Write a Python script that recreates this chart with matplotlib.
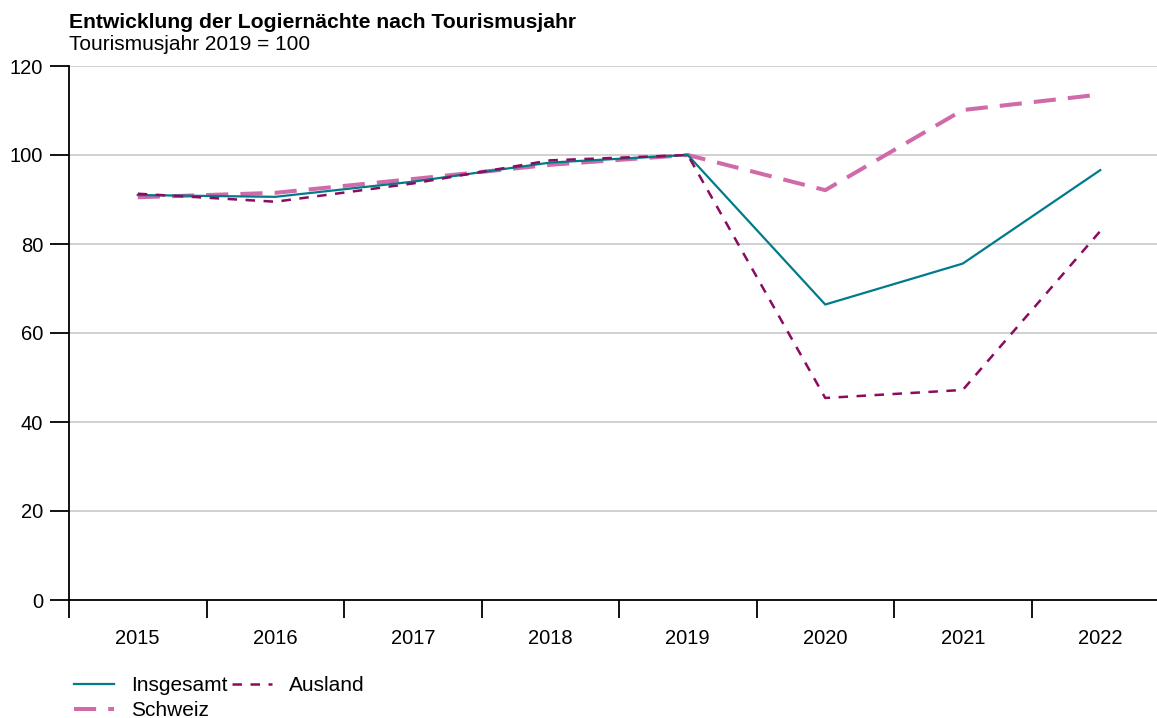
import numpy as np
import matplotlib
matplotlib.use('Agg')
import matplotlib.pyplot as plt

years = ['2015', '2016', '2017', '2018', '2019', '2020', '2021', '2022']
insgesamt = [91.0, 90.6, 94.0, 98.3, 100.0, 66.4, 75.6, 96.6]
ausland = [91.3, 89.5, 93.6, 98.8, 100.0, 45.4, 47.2, 82.9]
schweiz = [90.5, 91.5, 94.6, 97.8, 100.0, 92.1, 110.1, 113.6]

plt.rcParams['font.family'] = ['Liberation Sans', 'DejaVu Sans']

fig = plt.figure(figsize=(11.57, 7.18), dpi=100)
ax = fig.add_axes([69/1157, 1 - 600/718, 1100/1157, 534/718])

x = np.arange(len(years))
ax.plot(x, insgesamt, color='#007b8a', lw=1.6, label='Insgesamt', zorder=3)
ax.plot(x, schweiz, color='#d06aa9', lw=2.9, dashes=(5.5, 3.0), label='Schweiz', zorder=2)
ax.plot(x, ausland, color='#8a0b5f', lw=1.8, dashes=(3.8, 3.4), label='Ausland', zorder=4)

ax.set_xlim(-0.5, len(years) - 0.5)
ax.set_ylim(0, 120)
ax.set_yticks(range(0, 121, 20))
ax.yaxis.grid(True, color='#c8c8c8', lw=1.2)
ax.set_axisbelow(True)

ax.set_xticks(np.arange(-0.5, len(years), 1.0))
ax.set_xticklabels([])
ax.set_xticks(x, minor=True)
ax.set_xticklabels(years, minor=True)
ax.tick_params(axis='x', which='major', length=13, width=1.3, direction='out')
ax.tick_params(axis='x', which='minor', length=0, pad=21, labelsize=14.5)
ax.tick_params(axis='y', length=14, width=1.3, pad=4.5, labelsize=14.5)

for s in ['top', 'right']:
    ax.spines[s].set_visible(False)
for s in ['left', 'bottom']:
    ax.spines[s].set_linewidth(1.3)

fig.text(69/1157, 1 - 28/718, 'Entwicklung der Logiernächte nach Tourismusjahr',
         fontsize=15.2, fontweight='bold', va='baseline', ha='left')
fig.text(69/1157, 1 - 50/718, 'Tourismusjahr 2019 = 100',
         fontsize=15, va='baseline', ha='left')

h, l = ax.get_legend_handles_labels()
fig.legend(h, l, ncol=2,
           loc='upper left', bbox_to_anchor=(74/1157, 1 - 676/718),
           frameon=False, fontsize=15, handlelength=1.9, handletextpad=0.85,
           columnspacing=0.2, labelspacing=0.28, borderaxespad=0, borderpad=0)

fig.savefig('out.png', dpi=100)
